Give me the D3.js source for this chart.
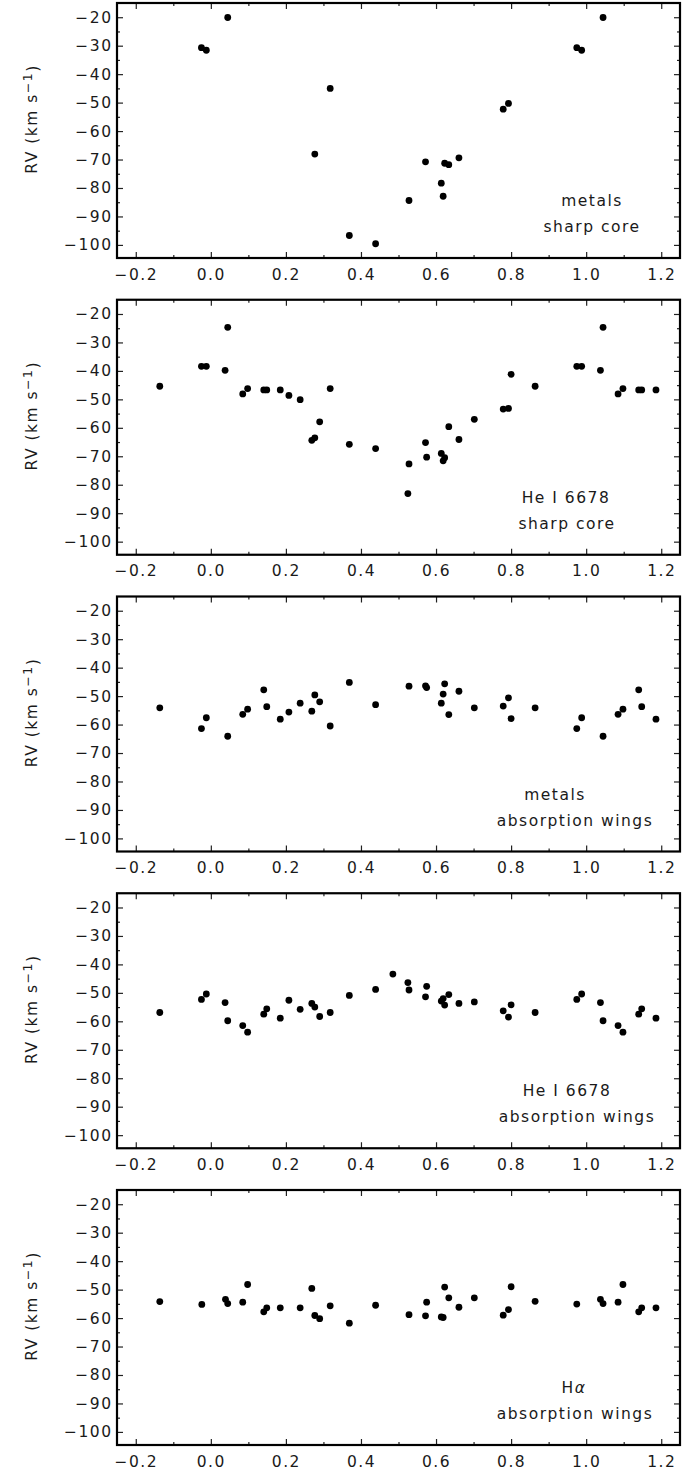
<!DOCTYPE html>
<html>
<head>
<meta charset="utf-8">
<script src="https://cdn.jsdelivr.net/npm/d3@7"></script>
<style>
  body { margin: 0; background: #fff; }
  svg text { font-family: "DejaVu Sans", sans-serif; letter-spacing: 1.5px; fill: #1a1a1a; }
</style>
</head>
<body>
<div id="chart"></div>
<script>
// ---- data (phase, RV in km/s) ----
var metalsCorePhase = [-0.025, -0.012, 0.045, 0.277, 0.318, 0.369, 0.439, 0.528, 0.572, 0.614, 0.619, 0.623, 0.634, 0.661, 0.779, 0.793, 0.975, 0.988, 1.045];
var metalsCoreRV = [-30.7, -31.6, -20.1, -68.1, -45.0, -96.7, -99.6, -84.4, -70.8, -78.3, -82.9, -71.3, -71.8, -69.4, -52.3, -50.3, -30.7, -31.6, -20.1];

var heCorePhase = [-0.136, -0.025, -0.012, 0.038, 0.045, 0.085, 0.098, 0.141, 0.149, 0.185, 0.208, 0.238, 0.269, 0.277, 0.290, 0.318, 0.369, 0.439, 0.525, 0.528, 0.572, 0.575, 0.614, 0.619, 0.623, 0.634, 0.661, 0.702, 0.779, 0.793, 0.800, 0.864, 0.975, 0.988, 1.038, 1.045, 1.085, 1.098, 1.140, 1.148, 1.186];
var heCoreRV = [-45.4, -38.4, -38.4, -39.8, -24.7, -48.1, -46.2, -46.7, -46.7, -46.7, -48.6, -50.1, -64.4, -63.5, -57.9, -46.2, -65.8, -67.3, -83.1, -72.7, -65.2, -70.3, -69.0, -71.6, -70.5, -59.6, -64.1, -57.0, -53.4, -53.2, -41.2, -45.4, -38.4, -38.4, -39.8, -24.7, -48.1, -46.2, -46.7, -46.7, -46.7];

var metalsWingPhase = [-0.136, -0.025, -0.012, 0.045, 0.085, 0.098, 0.141, 0.149, 0.185, 0.208, 0.238, 0.269, 0.277, 0.290, 0.318, 0.369, 0.439, 0.528, 0.572, 0.575, 0.614, 0.619, 0.623, 0.634, 0.661, 0.702, 0.779, 0.793, 0.800, 0.864, 0.975, 0.988, 1.045, 1.085, 1.098, 1.140, 1.148, 1.186];
var metalsWingRV = [-54.1, -61.4, -57.6, -64.1, -56.4, -54.6, -47.8, -53.7, -58.1, -55.6, -52.5, -55.3, -49.6, -52.0, -60.5, -45.2, -53.0, -46.5, -46.4, -47.0, -52.5, -49.3, -45.7, -56.5, -48.3, -54.1, -53.5, -50.6, -57.9, -54.1, -61.4, -57.6, -64.1, -56.4, -54.6, -47.8, -53.7, -58.1];

var heWingPhase = [-0.136, -0.025, -0.012, 0.038, 0.045, 0.085, 0.098, 0.141, 0.149, 0.185, 0.208, 0.238, 0.269, 0.277, 0.290, 0.318, 0.369, 0.439, 0.485, 0.525, 0.528, 0.572, 0.575, 0.614, 0.619, 0.623, 0.634, 0.661, 0.702, 0.779, 0.793, 0.800, 0.864, 0.975, 0.988, 1.038, 1.045, 1.085, 1.098, 1.140, 1.148, 1.186];
var heWingRV = [-56.9, -52.3, -50.4, -53.4, -59.8, -61.5, -63.8, -57.5, -55.6, -58.9, -52.6, -55.8, -53.7, -55.0, -58.3, -56.9, -50.9, -48.8, -43.4, -46.4, -49.0, -51.4, -47.7, -52.9, -52.0, -54.3, -50.6, -53.7, -53.2, -56.3, -58.5, -54.2, -56.9, -52.3, -50.4, -53.4, -59.8, -61.5, -63.8, -57.5, -55.6, -58.9];

var haWingPhase = [-0.136, -0.024, 0.039, 0.045, 0.085, 0.098, 0.141, 0.149, 0.185, 0.238, 0.269, 0.277, 0.290, 0.318, 0.369, 0.439, 0.528, 0.572, 0.575, 0.614, 0.619, 0.623, 0.634, 0.661, 0.702, 0.779, 0.793, 0.800, 0.864, 0.975, 1.038, 1.045, 1.085, 1.098, 1.140, 1.148, 1.186];
var haWingRV = [-54.2, -55.2, -53.4, -54.9, -54.4, -48.2, -57.8, -56.4, -56.4, -56.4, -49.6, -59.1, -60.2, -55.7, -61.8, -55.5, -58.8, -59.2, -54.4, -59.6, -59.8, -49.1, -52.9, -56.2, -52.9, -59.0, -57.0, -49.0, -54.1, -55.1, -53.4, -54.9, -54.4, -48.2, -57.8, -56.4, -56.4];

var xMajorTicks = [-0.2, 0.0, 0.2, 0.4, 0.6, 0.8, 1.0, 1.2];
var xMinorTicks = [-0.1, 0.1, 0.3, 0.5, 0.7, 0.9, 1.1];
var yMajorTicks = [-100, -90, -80, -70, -60, -50, -40, -30, -20];
var yMinorTicks = [-95, -85, -75, -65, -55, -45, -35, -25];

var panelLabels = [
  ["metals", "sharp core"],
  ["He I 6678", "sharp core"],
  ["metals", "absorption wings"],
  ["He I 6678", "absorption wings"],
  ["H\u03B1", "absorption wings"]
];

var panels = [
  { phase: metalsCorePhase, rv: metalsCoreRV, lx: [592, 592] },
  { phase: heCorePhase, rv: heCoreRV, lx: [566, 567] },
  { phase: metalsWingPhase, rv: metalsWingRV, lx: [555, 575] },
  { phase: heWingPhase, rv: heWingRV, lx: [567, 577] },
  { phase: haWingPhase, rv: haWingRV, lx: [574, 575] }
];

// ---- layout ----
var width = 695, height = 1470;
var left = 117, right = 680;
var panelH = 255, panelStep = 296.75, firstTop = 3;

var svg = d3.select("#chart").append("svg")
  .attr("width", width)
  .attr("height", height);

var xscale = d3.scaleLinear().domain([-0.25, 1.25]).range([left, right]);
var fmtX = d3.format(".1f");
var fmtY = d3.format("d");

// ticks drawn inward, no domain line (the frame does that)
function styleAxis(sel) {
  sel.select(".domain").remove();
  sel.selectAll("line").attr("stroke", "#222").attr("stroke-width", 1.2);
  sel.selectAll("text").style("font-size", "15.5px").attr("fill", "#1a1a1a");
}

panels.forEach(function (p, i) {
  var top = firstTop + i * panelStep;
  var yscale = d3.scaleLinear().domain([-104.6, -15]).range([top + panelH, top]);

  var g = svg.append("g").attr("class", "panel");

  g.append("g").attr("transform", "translate(0," + (top + panelH) + ")")
    .call(d3.axisBottom(xscale).tickValues(xMajorTicks).tickSize(-6).tickPadding(10.5).tickFormat(fmtX))
    .call(styleAxis);
  g.append("g").attr("transform", "translate(0," + (top + panelH) + ")")
    .call(d3.axisBottom(xscale).tickValues(xMinorTicks).tickSize(-3).tickFormat(""))
    .call(styleAxis);
  g.append("g").attr("transform", "translate(0," + top + ")")
    .call(d3.axisTop(xscale).tickValues(xMajorTicks).tickSize(-6).tickFormat(""))
    .call(styleAxis);
  g.append("g").attr("transform", "translate(0," + top + ")")
    .call(d3.axisTop(xscale).tickValues(xMinorTicks).tickSize(-3).tickFormat(""))
    .call(styleAxis);

  g.append("g").attr("transform", "translate(" + left + ",0)")
    .call(d3.axisLeft(yscale).tickValues(yMajorTicks).tickSize(-6).tickPadding(4.5).tickFormat(fmtY))
    .call(styleAxis);
  g.append("g").attr("transform", "translate(" + left + ",0)")
    .call(d3.axisLeft(yscale).tickValues(yMinorTicks).tickSize(-3).tickFormat(""))
    .call(styleAxis);
  g.append("g").attr("transform", "translate(" + right + ",0)")
    .call(d3.axisRight(yscale).tickValues(yMajorTicks).tickSize(-6).tickFormat(""))
    .call(styleAxis);
  g.append("g").attr("transform", "translate(" + right + ",0)")
    .call(d3.axisRight(yscale).tickValues(yMinorTicks).tickSize(-3).tickFormat(""))
    .call(styleAxis);

  // frame
  g.append("rect")
    .attr("x", left)
    .attr("y", top)
    .attr("width", right - left)
    .attr("height", panelH)
    .attr("fill", "none")
    .attr("stroke", "#000")
    .attr("stroke-width", 2.2);

  // points
  var pts = p.phase.map(function (ph, k) { return { phase: ph, rv: p.rv[k] }; });
  g.selectAll(".dot")
    .data(pts)
    .enter()
    .append("circle")
    .attr("class", "dot")
    .attr("cx", function (d) { return xscale(d.phase); })
    .attr("cy", function (d) { return yscale(d.rv); })
    .attr("r", 3.4)
    .attr("fill", "#000");

  // y axis label
  var yl = g.append("text")
    .attr("transform", "translate(37," + (top + 116) + ") rotate(-90)")
    .attr("text-anchor", "middle")
    .style("font-size", "15.5px");
  yl.append("tspan").text("RV (km s");
  yl.append("tspan").attr("dy", "-0.4em").style("font-size", "12.5px").text("\u22121");
  yl.append("tspan").attr("dy", "0.4em").text(")");

  // panel annotation
  var lab = panelLabels[i];
  var t1 = g.append("text")
    .attr("x", p.lx[0])
    .attr("y", top + 203)
    .attr("text-anchor", "middle")
    .style("font-size", "15.5px");
  if (lab[0] === "H\u03B1") {
    t1.append("tspan").text("H");
    t1.append("tspan").style("font-style", "italic").text("\u03B1");
  } else {
    t1.text(lab[0]);
  }
  g.append("text")
    .attr("x", p.lx[1])
    .attr("y", top + 229)
    .attr("text-anchor", "middle")
    .style("font-size", "15.5px")
    .text(lab[1]);
});
</script>
</body>
</html>
